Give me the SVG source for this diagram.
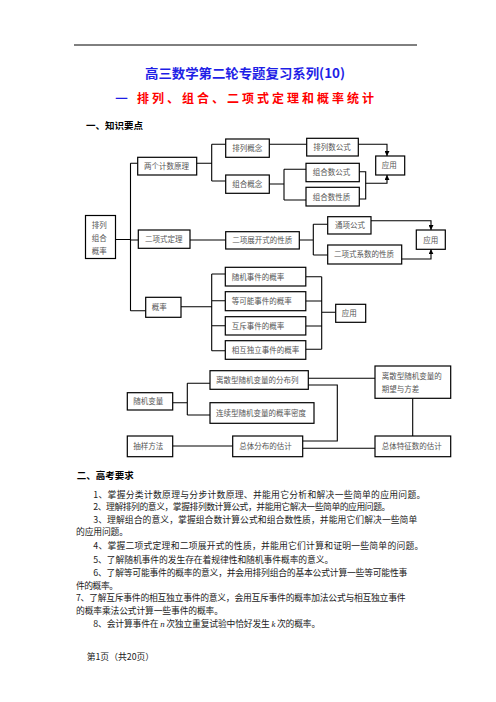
<svg xmlns="http://www.w3.org/2000/svg" width="496" height="702" viewBox="0 0 496 702">
<style>
.box{fill:#fff;stroke:#000;stroke-width:1.2}
.ln{fill:none;stroke:#000;stroke-width:1.1}
.arr{fill:none;stroke:#000;stroke-width:1.1;marker-end:url(#ah)}
.t{font-family:"Noto Sans CJK SC","Noto Sans CJK JP",sans-serif;font-size:7.5px;fill:#555}
.body{font-family:"Noto Sans CJK SC","Noto Sans CJK JP",sans-serif;font-size:8.8px;fill:#222}
.h{font-family:"Noto Sans CJK SC","Noto Sans CJK JP",sans-serif;font-weight:bold;font-size:9.5px;fill:#000}
</style>
<defs>
<marker id="ah" markerUnits="userSpaceOnUse" markerWidth="5" markerHeight="5" refX="5" refY="2.5" orient="auto">
<path d="M0,0 L5,2.5 L0,5 z" fill="#000"/>
</marker>
</defs>
<rect width="496" height="702" fill="#fff"/>
<line x1="74" y1="45" x2="417" y2="45" stroke="#000" stroke-width="1"/>
<text x="145" y="78" textLength="200" lengthAdjust="spacingAndGlyphs" font-family="Noto Sans CJK SC, sans-serif" font-weight="bold" font-size="13" fill="#1e1ee6">高三数学第二轮专题复习系列(10)</text>
<text x="115" y="102" textLength="13" lengthAdjust="spacingAndGlyphs" font-family="Noto Sans CJK SC, sans-serif" font-weight="bold" font-size="13" fill="#1e1ee6">—</text>
<text x="137" y="103" textLength="237" lengthAdjust="spacing" font-family="Noto Sans CJK SC, sans-serif" font-weight="bold" font-size="12" fill="#ff0000">排列、组合、二项式定理和概率统计</text>
<text class="h" x="86" y="129">一、知识要点</text>

<g id="connectors">
<path class="ln" d="M115.5,239.5 H130.5 M130.5,163.3 V310.7 M130.5,163.3 H137.7 M130.5,240 H138.3 M130.5,310.7 H145.7"/>
<path class="ln" d="M196.7,163.3 H211.7 M211.7,144.3 V181 M211.7,144.3 H225.7 M211.7,181 H225.7"/>
<path class="ln" d="M269.3,144.3 H306.7"/>
<path class="ln" d="M269.3,184 H284 M284,169.3 V200 M284,169.3 H306 M284,200 H306"/>
<path class="arr" d="M358.3,144.3 H387 V156"/>
<path class="ln" d="M359.3,171.7 H365.7 V199 H359.3"/>
<path class="arr" d="M365.7,183.3 H387 V175"/>
<path class="ln" d="M190,240 H225.7"/>
<path class="ln" d="M299.3,240 H313.3 M313.3,224.3 V255 M313.3,224.3 H327.7 M313.3,255 H327.7"/>
<path class="arr" d="M371,220.7 H431 V230"/>
<path class="arr" d="M401.7,259 H431 V249.3"/>
<path class="ln" d="M181,306.7 H211.7 M211.7,274 V350.7 M211.7,274 H225.3 M211.7,300.7 H225.3 M211.7,325.7 H225.3 M211.7,350.7 H225.3"/>
<path class="ln" d="M305.8,276.7 H321.7 M305.8,301 H321.7 M305.8,326 H321.7 M305.8,349.3 H321.7 M321.7,276.7 V349.3 M321.7,312.3 H335.7"/>
<path class="ln" d="M172.7,402.7 H187.3 M187.3,383.3 V415 M187.3,383.3 H210 M187.3,415 H210"/>
<path class="ln" d="M308.3,378.3 H375"/>
<path class="ln" d="M308.3,385 H337.3 V441 H302.7"/>
<path class="ln" d="M172.7,446 H232.7"/>
<path class="ln" d="M302.7,448.3 H375"/>
<path class="ln" d="M412.7,398.3 V436"/>
</g>

<g id="root"><rect class="box" x="85.5" y="215.5" width="30" height="43"/>
<text class="t" x="91.7" y="228">排列</text><text class="t" x="91.7" y="241">组合</text><text class="t" x="91.7" y="253.5">概率</text></g>
<g id="n-jishu"><rect class="box" x="137.7" y="157.3" width="59" height="17.7"/><text class="t" x="144" y="168.8">两个计数原理</text></g>
<g id="n-erxiang"><rect class="box" x="138.3" y="230" width="51.7" height="18.3"/><text class="t" x="145" y="242">二项式定理</text></g>
<g id="n-gailv"><rect class="box" x="145.7" y="297.3" width="35.3" height="20"/><text class="t" x="151.7" y="310">概率</text></g>
<g id="n-pailie"><rect class="box" x="225.7" y="139" width="43.6" height="18.3"/><text class="t" x="232.3" y="151">排列概念</text></g>
<g id="n-zuhe"><rect class="box" x="225.7" y="175" width="43.6" height="18.3"/><text class="t" x="232.3" y="187">组合概念</text></g>
<g id="n-pailieshu"><rect class="box" x="306.7" y="138.3" width="51.6" height="17.7"/><text class="t" x="313.3" y="150">排列数公式</text></g>
<g id="n-zuheshu"><rect class="box" x="306" y="163.3" width="53.3" height="18.4"/><text class="t" x="312.7" y="175.3">组合数公式</text></g>
<g id="n-zuhexing"><rect class="box" x="306" y="187.3" width="53.3" height="18.7"/><text class="t" x="312.7" y="199.5">组合数性质</text></g>
<g id="n-yingyong1"><rect class="box" x="375.7" y="156" width="29" height="19"/><text class="t" x="381.7" y="168.3">应用</text></g>
<g id="n-zhankai"><rect class="box" x="225.7" y="231.7" width="73.6" height="17.3"/><text class="t" x="232.3" y="243.1">二项展开式的性质</text></g>
<g id="n-tongxiang"><rect class="box" x="327.7" y="216.7" width="43.3" height="17.3"/><text class="t" x="335" y="228.1">通项公式</text></g>
<g id="n-xishu"><rect class="box" x="327.7" y="245" width="74" height="19"/><text class="t" x="334" y="257.3">二项式系数的性质</text></g>
<g id="n-yingyong2"><rect class="box" x="416.3" y="230" width="29" height="19.3"/><text class="t" x="423.3" y="242.5">应用</text></g>
<g id="n-suiji"><rect class="box" x="225.3" y="267.3" width="80.5" height="18.7"/><text class="t" x="231.7" y="279.5">随机事件的概率</text></g>
<g id="n-dengke"><rect class="box" x="225.3" y="291.7" width="80.5" height="19"/><text class="t" x="231.7" y="304">等可能事件的概率</text></g>
<g id="n-huchi"><rect class="box" x="225.3" y="316.7" width="80.5" height="18.3"/><text class="t" x="231.7" y="328.6">互斥事件的概率</text></g>
<g id="n-duli"><rect class="box" x="225.3" y="340.7" width="80.5" height="18.6"/><text class="t" x="231.7" y="352.8">相互独立事件的概率</text></g>
<g id="n-yingyong3"><rect class="box" x="335.7" y="304.3" width="30" height="18"/><text class="t" x="341.7" y="316.1">应用</text></g>
<g id="n-bianliang"><rect class="box" x="127.3" y="392.7" width="45.4" height="17.3"/><text class="t" x="133.3" y="404">随机变量</text></g>
<g id="n-fenbulie"><rect class="box" x="210" y="370.7" width="98.3" height="18.6"/><text class="t" x="216" y="382.7">离散型随机变量的分布列</text></g>
<g id="n-midu"><rect class="box" x="210" y="402.7" width="104" height="20.6"/><text class="t" x="216" y="415.7">连续型随机变量的概率密度</text></g>
<g id="n-qiwang"><rect class="box" x="375" y="366" width="75.7" height="32.3"/><text class="t" x="381.7" y="378.5">离散型随机变量的</text><text class="t" x="381.7" y="392">期望与方差</text></g>
<g id="n-chouyang"><rect class="box" x="127.3" y="436" width="45.4" height="20.7"/><text class="t" x="133.3" y="449">抽样方法</text></g>
<g id="n-zongti"><rect class="box" x="232.7" y="436" width="70" height="20.7"/><text class="t" x="239.3" y="449">总体分布的估计</text></g>
<g id="n-tezheng"><rect class="box" x="375" y="436" width="75.7" height="20.7"/><text class="t" x="381.7" y="449">总体特征数的估计</text></g>

<text class="h" x="76.7" y="479">二、高考要求</text>
<text class="body" x="93.3" y="497.5" textLength="332" lengthAdjust="spacing">1、掌握分类计数原理与分步计数原理、并能用它分析和解决一些简单的应用问题。</text>
<text class="body" x="93.3" y="510" textLength="297" lengthAdjust="spacing">2、理解排列的意义，掌握排列数计算公式，并能用它解决一些简单的应用问题。</text>
<text class="body" x="93.3" y="522.5" textLength="324" lengthAdjust="spacing">3、理解组合的意义，掌握组合数计算公式和组合数性质，并能用它们解决一些简单</text>
<text class="body" x="76" y="535" textLength="52" lengthAdjust="spacing">的应用问题。</text>
<text class="body" x="93.3" y="548.5" textLength="330" lengthAdjust="spacing">4、掌握二项式定理和二项展开式的性质，并能用它们计算和证明一些简单的问题。</text>
<text class="body" x="93.3" y="562.5" textLength="240" lengthAdjust="spacing">5、了解随机事件的发生存在着规律性和随机事件概率的意义。</text>
<text class="body" x="93.3" y="575.5" textLength="314" lengthAdjust="spacing">6、了解等可能事件的概率的意义，并会用排列组合的基本公式计算一些等可能性事</text>
<text class="body" x="76" y="588.5" textLength="42" lengthAdjust="spacing">件的概率。</text>
<text class="body" x="76" y="600.5" textLength="329.5" lengthAdjust="spacing">7、了解互斥事件的相互独立事件的意义，会用互斥事件的概率加法公式与相互独立事件</text>
<text class="body" x="76" y="613.5" textLength="147" lengthAdjust="spacing">的概率乘法公式计算一些事件的概率。</text>
<text class="body" x="93.3" y="626.5" textLength="227" lengthAdjust="spacing">8、会计算事件在 <tspan font-family="Liberation Serif, serif" font-style="italic">n</tspan> 次独立重复试验中恰好发生 <tspan font-family="Liberation Serif, serif" font-style="italic">k</tspan> 次的概率。</text>
<text class="body" x="86.7" y="659.5" font-size="8" fill="#333">第1页（共20页）</text>
</svg>
